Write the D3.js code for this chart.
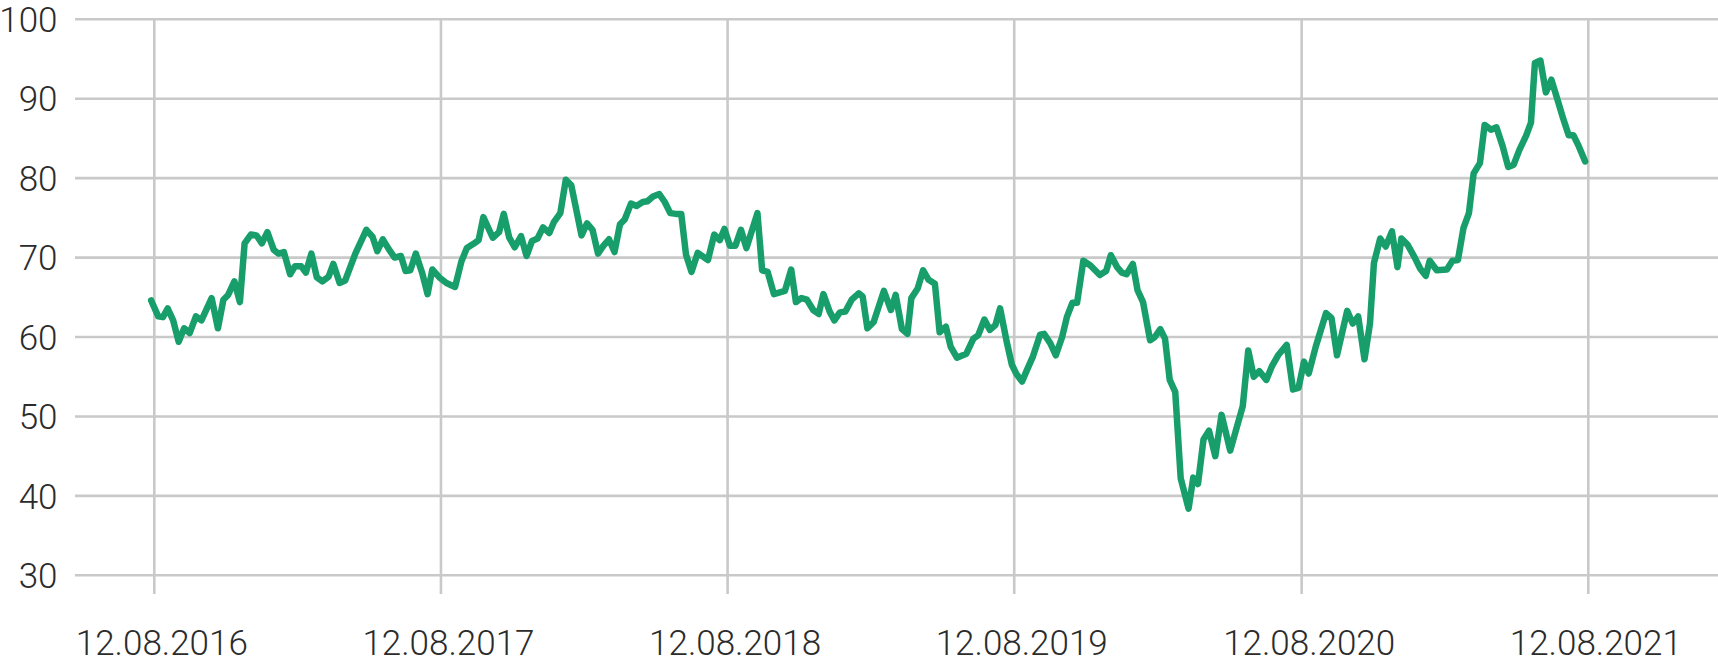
<!DOCTYPE html>
<html>
<head>
<meta charset="utf-8">
<script src="https://cdn.jsdelivr.net/npm/d3@7"></script>
<style>
  html, body { margin: 0; padding: 0; background: #fff; }
  svg { display: block; }
  text { font-family: Roboto, "Noto Sans", sans-serif; font-weight: 300; fill: #2b2b2b; }
</style>
</head>
<body>
<svg id="chart" width="1718" height="658"></svg>
<script>
// ---- data ----
const dates = [
"2016-08-08","2016-08-17","2016-08-23","2016-08-29","2016-09-05","2016-09-12","2016-09-19","2016-09-26","2016-10-04","2016-10-11",
"2016-10-24","2016-11-01","2016-11-08","2016-11-14","2016-11-22","2016-11-29","2016-12-05","2016-12-13","2016-12-20","2016-12-27",
"2017-01-03","2017-01-11","2017-01-17","2017-01-24","2017-02-01","2017-02-07","2017-02-15","2017-02-21","2017-02-28","2017-03-07",
"2017-03-14","2017-03-22","2017-03-28","2017-04-05","2017-04-12","2017-04-25","2017-05-09","2017-05-17","2017-05-23","2017-05-30",
"2017-06-07","2017-06-14","2017-06-22","2017-06-28","2017-07-04","2017-07-11","2017-07-19","2017-07-26","2017-08-01","2017-08-10",
"2017-08-19","2017-08-30","2017-09-07","2017-09-14","2017-09-22","2017-09-29","2017-10-05","2017-10-17","2017-10-25","2017-10-31",
"2017-11-07","2017-11-14","2017-11-22","2017-11-29","2017-12-06","2017-12-13","2017-12-20","2017-12-28","2018-01-03","2018-01-11",
"2018-01-18","2018-01-25","2018-02-07","2018-02-14","2018-02-21","2018-02-28","2018-03-07","2018-03-14","2018-03-21","2018-03-28",
"2018-04-03","2018-04-11","2018-04-18","2018-04-26","2018-05-02","2018-05-09","2018-05-17","2018-05-24","2018-05-31","2018-06-07",
"2018-06-14","2018-06-20","2018-06-27","2018-07-05","2018-07-18","2018-07-26","2018-08-02","2018-08-08","2018-08-15","2018-08-22",
"2018-08-29","2018-09-05","2018-09-19","2018-09-25","2018-10-02","2018-10-10","2018-10-24","2018-11-01","2018-11-07","2018-11-14",
"2018-11-21","2018-11-29","2018-12-06","2018-12-12","2018-12-20","2018-12-26","2019-01-02","2019-01-09","2019-01-17","2019-01-26",
"2019-01-31","2019-02-06","2019-02-14","2019-02-27","2019-03-08","2019-03-14","2019-03-22","2019-03-29","2019-04-03","2019-04-11",
"2019-04-18","2019-04-25","2019-05-03","2019-05-09","2019-05-17","2019-05-23","2019-05-31","2019-06-12","2019-06-21","2019-06-27",
"2019-07-05","2019-07-12","2019-07-19","2019-07-25","2019-08-02","2019-08-09","2019-08-15","2019-08-22","2019-08-28","2019-09-05",
"2019-09-14","2019-09-19","2019-09-27","2019-10-04","2019-10-12","2019-10-18","2019-10-25","2019-10-31","2019-11-08","2019-11-17",
"2019-11-29","2019-12-07","2019-12-13","2019-12-21","2019-12-27","2020-01-02","2020-01-10","2020-01-16","2020-01-23","2020-02-01",
"2020-02-07","2020-02-14","2020-02-20","2020-02-26","2020-03-04","2020-03-11","2020-03-21","2020-03-27","2020-04-02","2020-04-09",
"2020-04-16","2020-04-24","2020-05-02","2020-05-13","2020-05-29","2020-06-05","2020-06-12","2020-06-19","2020-06-28","2020-07-05",
"2020-07-13","2020-07-24","2020-08-01","2020-08-08","2020-08-15","2020-08-21","2020-08-30","2020-09-12","2020-09-19","2020-09-26",
"2020-10-09","2020-10-16","2020-10-23","2020-10-31","2020-11-07","2020-11-12","2020-11-20","2020-11-27","2020-12-05","2020-12-12",
"2020-12-17","2020-12-25","2021-01-03","2021-01-10","2021-01-17","2021-01-22","2021-01-31","2021-02-13","2021-02-20","2021-02-27",
"2021-03-06","2021-03-13","2021-03-19","2021-03-27","2021-04-02","2021-04-10","2021-04-17","2021-04-25","2021-05-02","2021-05-09",
"2021-05-16","2021-05-25","2021-05-31","2021-06-05","2021-06-12","2021-06-19","2021-06-26","2021-07-04","2021-07-11","2021-07-18",
"2021-07-24","2021-07-31","2021-08-08"
];
const values = [
64.6,62.6,62.5,63.6,62.1,59.4,61.1,60.5,62.6,62.1,
64.9,61.1,64.7,65.3,67.0,64.4,71.8,72.9,72.8,71.8,
73.2,71.0,70.5,70.7,67.9,68.9,68.9,68.1,70.5,67.5,
67.0,67.6,69.2,66.8,67.1,70.5,73.5,72.6,70.8,72.3,
71.0,70.0,70.2,68.3,68.4,70.5,68.1,65.4,68.5,67.5,
66.8,66.3,69.5,71.2,71.7,72.2,75.1,72.5,73.2,75.5,
72.5,71.3,72.7,70.2,72.1,72.4,73.8,73.1,74.5,75.6,
79.8,79.1,72.8,74.3,73.5,70.5,71.5,72.3,70.7,74.2,
74.8,76.8,76.5,77.0,77.1,77.7,78.0,77.0,75.6,75.5,
75.5,70.4,68.2,70.6,69.7,72.9,72.2,73.6,71.5,71.5,
73.5,71.2,75.6,68.4,68.2,65.4,65.8,68.5,64.4,64.9,
64.7,63.4,62.9,65.4,63.2,62.1,63.1,63.2,64.7,65.5,
65.1,61.1,61.9,65.8,63.4,65.3,61.0,60.4,64.9,66.1,
68.4,67.2,66.7,60.6,61.3,58.8,57.4,57.9,59.8,60.2,
62.2,60.9,61.5,63.6,59.6,56.5,55.3,54.4,55.8,57.6,
60.3,60.4,59.2,57.7,60.0,62.5,64.3,64.3,69.6,69.0,
67.8,68.3,70.3,68.8,68.1,67.9,69.2,65.9,64.4,59.6,
60.0,61.0,59.8,54.6,53.1,42.2,38.4,42.3,41.5,47.1,
48.2,45.0,50.2,45.7,51.3,58.3,55.0,55.7,54.6,56.3,
57.7,59.0,53.4,53.6,56.9,55.4,58.8,63.0,62.4,57.7,
63.3,61.7,62.6,57.2,61.7,69.3,72.4,71.4,73.3,68.8,
72.4,71.6,70.0,68.6,67.7,69.6,68.4,68.5,69.6,69.7,
73.7,75.6,80.6,81.9,86.7,86.1,86.4,84.0,81.4,81.7,
83.5,85.4,87.0,94.5,94.8,90.8,92.4,89.8,87.5,85.4,
85.4,84.0,82.1
];
const xTickDates = ["2016-08-12","2017-08-12","2018-08-12","2019-08-12","2020-08-12","2021-08-12"];
const xTickLabels = ["12.08.2016","12.08.2017","12.08.2018","12.08.2019","12.08.2020","12.08.2021"];
const yTicks = [30, 40, 50, 60, 70, 80, 90, 100];

// ---- drawing ----
const parse = d3.utcParse("%Y-%m-%d");
const data = dates.map((d, i) => ({ date: parse(d), value: values[i] }));

const svg = d3.select("#chart");
const W = 1718, H = 658;

const x = d3.scaleUtc()
  .domain([parse("2016-08-12"), parse("2021-08-12")])
  .range([154.3, 1588.3]);
const y = d3.scaleLinear().domain([30, 100]).range([575.3, 19.3]);

const gridColor = "#c9c9c9";

// horizontal gridlines + y labels
const yAxis = d3.axisLeft(y).tickValues(yTicks).tickSize(0).tickPadding(0);
const gy = svg.append("g").attr("transform", "translate(57.5,0)").call(yAxis);
gy.select(".domain").remove();
gy.selectAll("text").attr("font-size", 35).attr("fill", "#2b2b2b")
  .style("font-family", "Roboto, sans-serif").style("font-weight", 300)
  .attr("dy", "0.35em");

svg.append("g").selectAll("line").data(yTicks).join("line")
  .attr("x1", 75).attr("x2", W)
  .attr("y1", d => y(d)).attr("y2", d => y(d))
  .attr("stroke", gridColor).attr("stroke-width", 2.6);

// vertical gridlines + x labels
const xDates = xTickDates.map(parse);
svg.append("g").selectAll("line").data(xDates).join("line")
  .attr("x1", d => x(d)).attr("x2", d => x(d))
  .attr("y1", y(100)).attr("y2", 594)
  .attr("stroke", gridColor).attr("stroke-width", 2.6);

const xAxis = d3.axisBottom(x).tickValues(xDates)
  .tickFormat((d, i) => xTickLabels[i]).tickSize(0).tickPadding(0);
const gx = svg.append("g").attr("transform", "translate(7,0)").call(xAxis);
gx.select(".domain").remove();
gx.selectAll("text").attr("font-size", 35).attr("fill", "#2b2b2b")
  .style("font-family", "Roboto, sans-serif").style("font-weight", 300)
  .attr("y", 655).attr("dy", 0);

// line
const line = d3.line().x(d => x(d.date)).y(d => y(d.value));
svg.append("path").datum(data)
  .attr("d", line)
  .attr("fill", "none")
  .attr("stroke", "#189e6a")
  .attr("stroke-width", 6.5)
  .attr("stroke-linejoin", "round")
  .attr("stroke-linecap", "round");
</script>
</body>
</html>
